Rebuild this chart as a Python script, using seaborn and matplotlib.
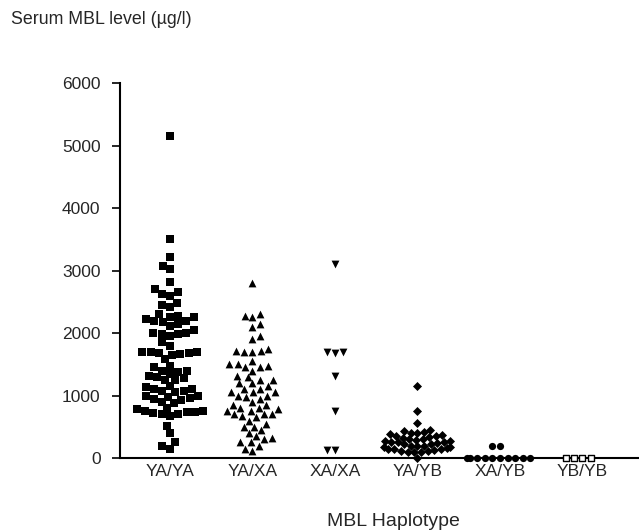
import pandas as pd
import seaborn as sns
import matplotlib.pyplot as plt

sns.set_style('ticks')
plt.rcParams['font.family'] = ['Liberation Sans', 'DejaVu Sans']

# 値は図から読み取った推定値
categories = ['YA/YA', 'YA/XA', 'XA/XA', 'YA/YB', 'XA/YB', 'YB/YB']

ya_ya = [5150, 3500, 3220, 3080, 3020, 2810, 2700, 2650, 2620, 2600, 2480, 2450,
         2420, 2300, 2280, 2250, 2250, 2230, 2200, 2200, 2180, 2150, 2120, 2050,
         2000, 2000, 1990, 1980, 1950, 1850, 1800, 1700, 1700, 1690, 1680, 1680,
         1670, 1650, 1580, 1480, 1450, 1400, 1400, 1380, 1350, 1320, 1300, 1280,
         1250, 1250, 1150, 1130, 1100, 1100, 1080, 1070, 1050, 1000, 1000, 980,
         960, 950, 930, 900, 880, 800, 780, 760, 750, 740, 730, 720, 700, 700,
         680, 520, 400, 250, 200, 150]
ya_xa = [2800, 2300, 2280, 2250, 2150, 2100, 1950, 1900, 1750, 1720, 1700, 1700,
         1720, 1550, 1500, 1500, 1480, 1450, 1450, 1400, 1320, 1300, 1250, 1250,
         1200, 1200, 1150, 1100, 1100, 1050, 1050, 1050, 1000, 1000, 980, 950,
         900, 850, 850, 800, 800, 780, 750, 750, 700, 700, 700, 680, 650, 600,
         550, 500, 500, 450, 400, 350, 320, 300, 250, 250, 200, 150, 120]
xa_xa = [3100, 1700, 1690, 1680, 1320, 760, 130, 130]
ya_yb = [1150, 750, 560, 450, 430, 420, 400, 400, 380, 370, 350, 350, 330, 320,
         300, 300, 290, 280, 270, 260, 250, 250, 240, 230, 220, 200, 200, 190,
         180, 170, 160, 150, 150, 140, 130, 120, 110, 100, 100, 90, 0]
xa_yb = [200, 200, 0, 0, 0, 0, 0, 0, 0, 0, 0, 0]
yb_yb = [0, 0, 0, 0]

groups = [ya_ya, ya_xa, xa_xa, ya_yb, xa_yb, yb_yb]
df = pd.DataFrame({
    'haplotype': [c for c, g in zip(categories, groups) for _ in g],
    'level': [v for g in groups for v in g],
})

markers = ['s', '^', 'v', 'D', 'o', 's']
sizes = [5.8, 5.6, 5.6, 4.6, 5.2, 4.6]

fig = plt.figure(figsize=(6.39, 5.30), dpi=100)
ax = fig.add_axes([120 / 639, 1 - 458 / 530, 519 / 639, 375 / 530])

for cat, m, s in zip(categories, markers, sizes):
    sub = df[df['haplotype'] == cat]
    if cat == 'YB/YB':
        sns.swarmplot(data=sub, x='haplotype', y='level', order=categories,
                      marker=m, size=s, color='white', edgecolor='black',
                      linewidth=1, ax=ax, clip_on=False, zorder=3)
    else:
        sns.swarmplot(data=sub, x='haplotype', y='level', order=categories,
                      marker=m, size=s, color='black', linewidth=0,
                      ax=ax, clip_on=False, zorder=3)

ax.set_ylim(0, 6000)
ax.set_xlim(-0.606, 5.685)
ax.set_yticks(range(0, 6001, 1000))
ax.tick_params(axis='y', length=6, width=1.2, pad=8, labelsize=12.5, color='black')
ax.tick_params(axis='x', length=0, pad=4, labelsize=12.5)
ax.set_xlabel('')
ax.set_ylabel('')
for side in ['top', 'right']:
    ax.spines[side].set_visible(False)
for side in ['left', 'bottom']:
    ax.spines[side].set_linewidth(1.5)
    ax.spines[side].set_color('black')

fig.text(11 / 639, 1 - 19 / 530, 'Serum MBL level (µg/l)', fontsize=12.8,
         ha='left', va='center')
fig.text(393 / 639, 1 - 521 / 530, 'MBL Haplotype', fontsize=14,
         ha='center', va='center')

plt.savefig('out.png', dpi=100)
